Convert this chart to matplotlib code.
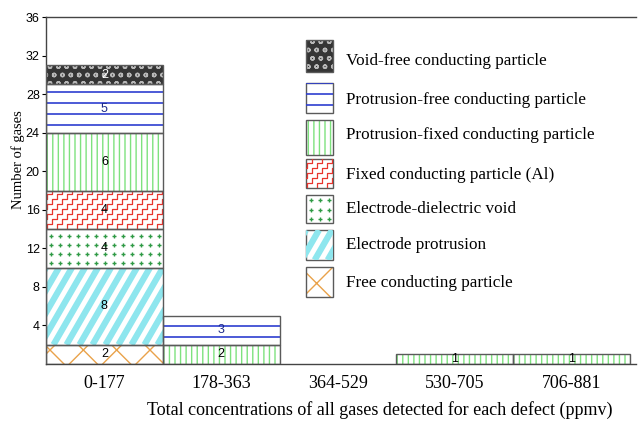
import numpy as np
import matplotlib
matplotlib.use("Agg")
import matplotlib.pyplot as plt
from matplotlib.collections import LineCollection
from matplotlib.patches import Rectangle

plt.rcParams["font.family"] = ["Liberation Serif", "DejaVu Serif"]
plt.rcParams["hatch.linewidth"] = 1.0

# gas-count data per concentration range
bins = ["0-177", "178-363", "364-529", "530-705", "706-881"]
free_particle = [2, 0, 0, 0, 0]
electrode_protrusion = [8, 0, 0, 0, 0]
electrode_void = [4, 0, 0, 0, 0]
fixed_particle_al = [4, 0, 0, 0, 0]
protrusion_fixed = [6, 2, 0, 1, 1]
protrusion_free = [5, 3, 0, 0, 0]
void_free = [2, 0, 0, 0, 0]

series = [
    ("Free conducting particle", free_particle),
    ("Electrode protrusion", electrode_protrusion),
    ("Electrode-dielectric void", electrode_void),
    ("Fixed conducting particle (Al)", fixed_particle_al),
    ("Protrusion-fixed conducting particle", protrusion_fixed),
    ("Protrusion-free conducting particle", protrusion_free),
    ("Void-free conducting particle", void_free),
]

# fill style per defect: (facecolor, hatch, hatch colour, extra pattern, label colour)
styles = {
    "Free conducting particle": ("white", "x", "#e9a24a", None, "black"),
    "Electrode protrusion": ("white", "", "none", "stripes", "black"),
    "Electrode-dielectric void": ("white", "", "none", "plus", "black"),
    "Fixed conducting particle (Al)": ("white", "", "none", "zigzag", "black"),
    "Protrusion-fixed conducting particle": ("white", "|||", "#7ee27e", None, "black"),
    "Protrusion-free conducting particle": ("white", "", "none", "hlines", "#1c2a8a"),
    "Void-free conducting particle": ("#353535", "oo", "#b8b8b8", None, "white"),
}

EDGE = "#5a5a5a"
NARROW = ["Liberation Sans Narrow", "Liberation Sans", "DejaVu Sans"]


def add_pattern(ax, patch, kind, sx, sy):
    """Draw a custom fill pattern inside patch; sx, sy are pixels per data unit."""
    x0, y0 = patch.get_x(), patch.get_y()
    W, H = patch.get_width() * sx, patch.get_height() * sy

    def to_data(pts):
        return [(x0 + a / sx, y0 + b / sy) for a, b in pts]

    if kind == "zigzag":
        step, gap = 5.0, 10.0
        segs = []
        for off in np.arange(-H, W + gap, gap):
            px, py = off, 0.0
            pts = [(px, py)]
            while py < H + step and px < W + step:
                py += step
                pts.append((px, py))
                px += step
                pts.append((px, py))
            segs.append(to_data(pts))
        lc = LineCollection(segs, colors="#e8352e", linewidths=0.9)
    elif kind == "stripes":
        gap, slant = 13.0, np.tan(np.radians(30))
        segs = [to_data([(off, 0), (off + H * slant, H)])
                for off in np.arange(-H * slant, W + gap, gap)]
        lc = LineCollection(segs, colors="#8ee6ee", linewidths=4.5)
    elif kind == "hlines":
        gap = 11.0
        segs = [to_data([(0, yy), (W, yy)]) for yy in np.arange(gap / 2 + 2, H, gap)]
        lc = LineCollection(segs, colors="#2d3ed0", linewidths=1.2)
    elif kind == "plus":
        gap = 9.0
        xs, ys = np.meshgrid(np.arange(gap / 2, W, gap), np.arange(gap / 2, H, gap))
        pts = to_data(list(zip(xs.ravel(), ys.ravel())))
        if pts:
            px, py = zip(*pts)
            ax.plot(px, py, "+", color="#2f9a45", ms=3.5, mew=1.0)
        return
    else:
        return
    ax.add_collection(lc)
    # clip after adding, otherwise the axes patch replaces the clip box
    lc.set_clip_path(patch)


fig = plt.figure(figsize=(6.38, 4.24), dpi=100)
ax = fig.add_axes([46 / 638, 60 / 424, 590 / 638, 347 / 424])
ax.set_xlim(-0.5, 4.55)
ax.set_ylim(0, 36)

sx = 590 / 5.05
sy = 347 / 36.0

x = np.arange(len(bins))
bottom = np.zeros(len(bins))
for name, vals in series:
    face, hatch, hcol, extra, tcol = styles[name]
    vals = np.asarray(vals, dtype=float)
    idx = np.nonzero(vals)[0]
    bars = ax.bar(x[idx], vals[idx], bottom=bottom[idx], width=1.0,
                  color=face, hatch=hatch, edgecolor=hcol, linewidth=0, zorder=2)
    for patch in bars:
        add_pattern(ax, patch, extra, sx, sy)
    ax.bar(x[idx], vals[idx], bottom=bottom[idx], width=1.0, fill=False,
           edgecolor=EDGE, linewidth=1.0, zorder=3)
    for i in idx:
        ax.text(x[i], bottom[i] + vals[i] / 2, f"{int(vals[i])}", ha="center",
                va="center", fontsize=9, color=tcol, family=NARROW, zorder=4)
    bottom += vals

for side in ("left", "bottom", "top"):
    ax.spines[side].set_color("#444444")
    ax.spines[side].set_linewidth(1.0)
ax.spines["right"].set_visible(False)

ax.set_yticks(np.arange(4, 37, 4))
ax.set_yticklabels([str(v) for v in range(4, 37, 4)], family=NARROW, fontsize=9)
ax.tick_params(axis="y", length=3, pad=1.5)
ax.set_xticks(x)
ax.set_xticklabels(bins, fontsize=13)
ax.tick_params(axis="x", length=0, pad=8)
ax.set_ylabel("Number of gases", fontsize=10.5, va="center")
ax.yaxis.set_label_coords(-0.0475, 0.588)
ax.set_xlabel("Total concentrations of all gases detected for each defect (ppmv)",
              fontsize=13, va="center")
ax.xaxis.set_label_coords(0.566, -0.1326)

# hand-built legend in a pixel-scaled overlay axes
lax = fig.add_axes([290 / 638, 124 / 424, 340 / 638, 270 / 424])
lax.set_xlim(0, 340)
lax.set_ylim(0, 270)
lax.axis("off")
swatches = [(40, 72), (83, 113), (120, 155), (159, 188), (195, 223), (230, 260), (267, 297)]
text_rows = [61, 100, 135, 175, 209, 245, 283]
for (name, _), (top, bot), ty in zip(reversed(series), swatches, text_rows):
    face, hatch, hcol, extra, _ = styles[name]
    y0, h = 300 - bot, bot - top
    sw = Rectangle((16, y0), 27, h, facecolor=face, hatch=hatch, edgecolor=hcol, linewidth=0)
    lax.add_patch(sw)
    add_pattern(lax, sw, extra, 1.0, 1.0)
    lax.add_patch(Rectangle((16, y0), 27, h, fill=False, edgecolor=EDGE, linewidth=1.0))
    lax.text(56, 300 - ty, name, ha="left", va="center", fontsize=12.3)

fig.savefig("out.png", dpi=100)
